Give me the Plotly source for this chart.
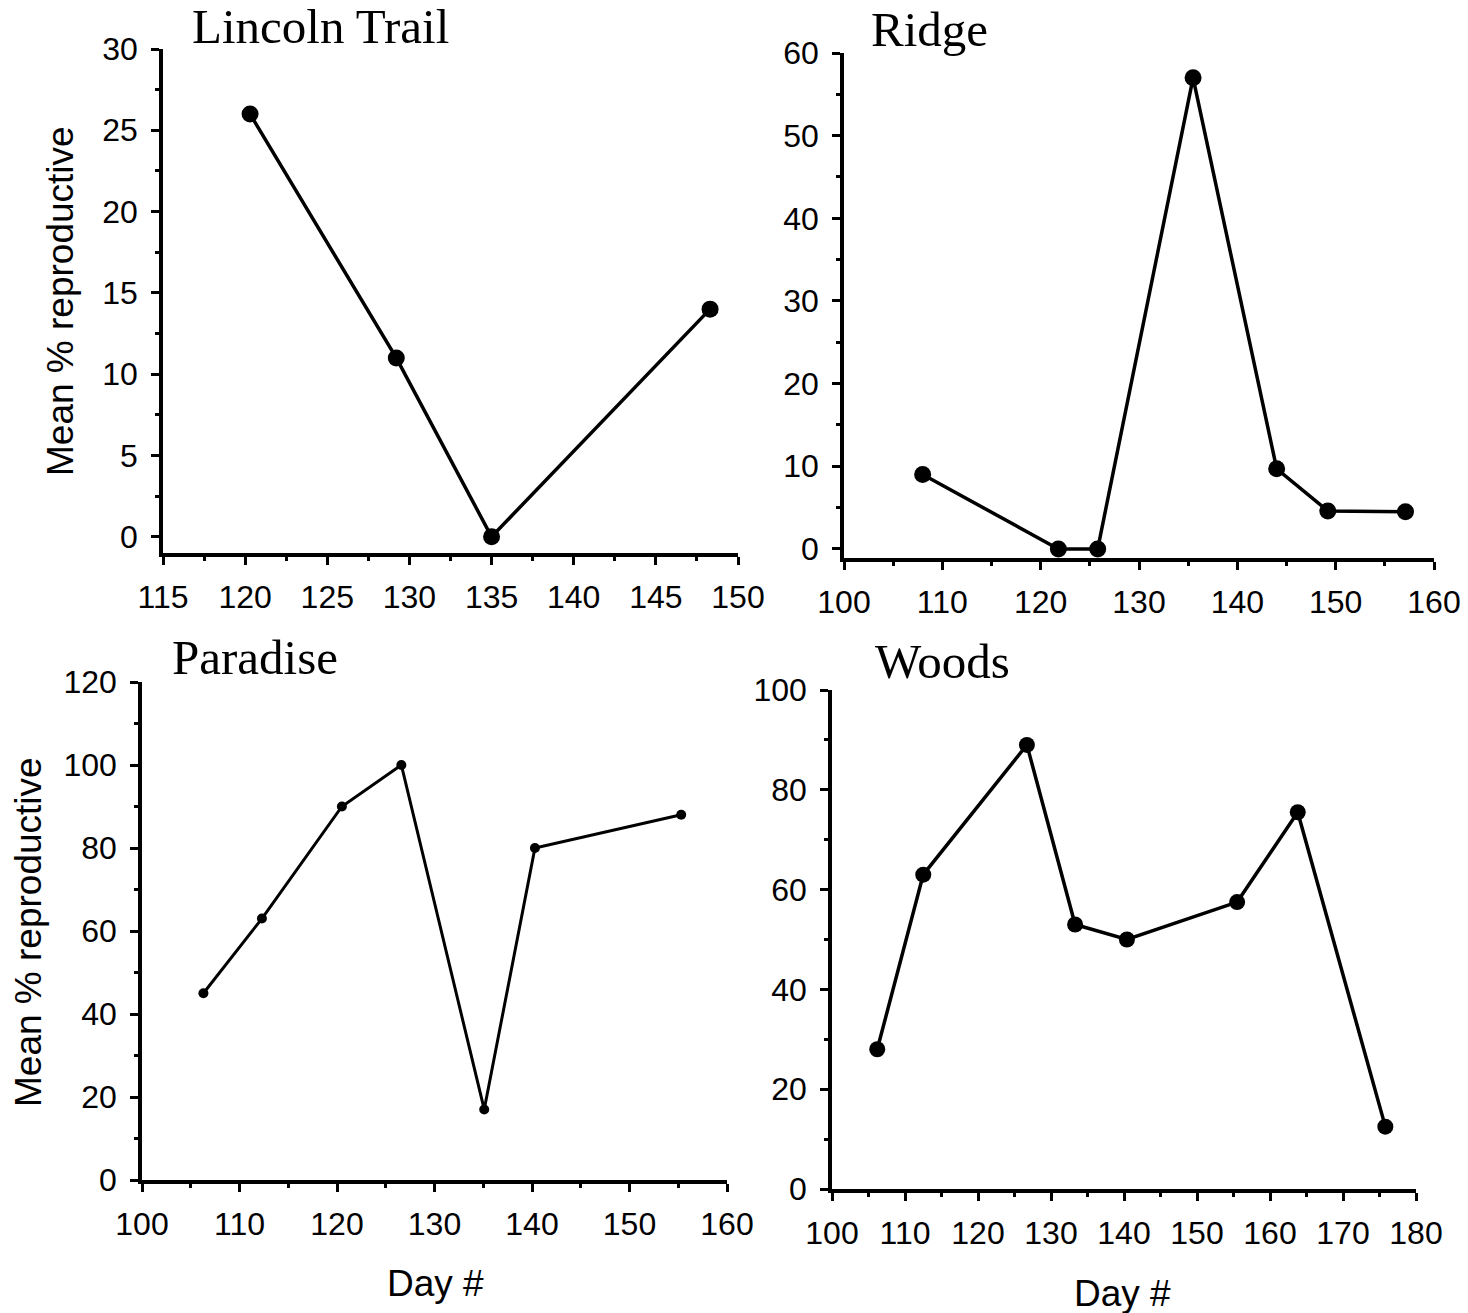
import plotly.graph_objects as go

# Sampling day and mean percent reproductive at each site
lincoln_day = [120.3, 129.2, 135.0, 148.3]
lincoln_pct = [26, 11, 0, 14]

ridge_day = [108.0, 121.8, 125.8, 135.5, 144.0, 149.2, 157.1]
ridge_pct = [9, 0, 0, 57, 9.7, 4.6, 4.5]

paradise_day = [106.3, 112.3, 120.5, 126.6, 135.1, 140.3, 155.3]
paradise_pct = [45, 63, 90, 100, 17, 80, 88]

woods_day = [106.2, 112.5, 126.7, 133.3, 140.4, 155.5, 163.8, 175.8]
woods_pct = [28, 63, 89, 53, 50, 57.5, 75.5, 12.5]

site_names = ["Lincoln Trail", "Ridge", "Paradise", "Woods"]
y_title = "Mean % reproductive"
x_title = "Day #"

W, H = 1468, 1313

# panel boxes in pixels: left, right, top, bottom
panels = [
    dict(box=(163, 738, 49, 553), xr=[115, 150], xd=5, yr=[-1, 30], yd=5,
         x=lincoln_day, y=lincoln_pct, ms=17, lw=3.5),
    dict(box=(844, 1434, 53, 558), xr=[100, 160], xd=10, yr=[-1.1, 60], yd=10,
         x=ridge_day, y=ridge_pct, ms=17, lw=3.5),
    dict(box=(142, 727, 682, 1180), xr=[100, 160], xd=10, yr=[0, 120], yd=20,
         x=paradise_day, y=paradise_pct, ms=10, lw=3),
    dict(box=(832, 1416, 690, 1189), xr=[100, 180], xd=10, yr=[0, 100], yd=20,
         x=woods_day, y=woods_pct, ms=16, lw=3.5),
]

tick_font = dict(family="Liberation Sans, Arial, sans-serif", size=32, color="black")

fig = go.Figure()
layout = dict(
    width=W, height=H,
    margin=dict(l=0, r=0, t=0, b=0),
    paper_bgcolor="white", plot_bgcolor="white",
    showlegend=False,
)

for i, p in enumerate(panels):
    n = "" if i == 0 else str(i + 1)
    l, r, t, b = p["box"]
    fig.add_trace(go.Scatter(
        x=p["x"], y=p["y"], mode="lines+markers",
        line=dict(color="black", width=p["lw"]),
        marker=dict(color="black", size=p["ms"]),
        xaxis="x" + n, yaxis="y" + n, cliponaxis=False,
    ))
    common = dict(
        showline=True, linecolor="black", linewidth=3.5,
        showgrid=False, zeroline=False, automargin=False,
        ticks="outside", ticklen=8, tickwidth=2.5, tickcolor="black",
        tickfont=tick_font, fixedrange=True,
    )
    layout["xaxis" + n] = dict(
        common, domain=[l / W, r / W], range=p["xr"], anchor="y" + n,
        tick0=0, dtick=p["xd"], ticklabelstandoff=5,
        minor=dict(dtick=p["xd"] / 2, ticks="outside", ticklen=4,
                   tickwidth=2.5, tickcolor="black", showgrid=False),
    )
    layout["yaxis" + n] = dict(
        common, domain=[1 - b / H, 1 - t / H], range=p["yr"], anchor="x" + n,
        tick0=0, dtick=p["yd"], ticklabelstandoff=7,
        minor=dict(dtick=p["yd"] / 2, ticks="outside", ticklen=4,
                   tickwidth=2.5, tickcolor="black", showgrid=False),
    )

fig.update_layout(**layout)

title_font = dict(family="Liberation Serif, Times New Roman, serif", size=49, color="black")
label_font = dict(family="Liberation Sans, Arial, sans-serif", size=37, color="black")

# site names (left x, vertical centre in pixels)
title_pos = [(190, 27), (869, 29), (170, 657), (873, 661)]
for name, (px, py) in zip(site_names, title_pos):
    fig.add_annotation(text=name, xref="paper", yref="paper",
                       x=px / W, y=1 - py / H, xanchor="left", yanchor="middle",
                       showarrow=False, font=title_font)

# axis titles
for px, py in [(60, 301), (28, 932)]:
    fig.add_annotation(text=y_title, xref="paper", yref="paper",
                       x=px / W, y=1 - py / H, xanchor="center", yanchor="middle",
                       textangle=-90, showarrow=False, font=label_font)
for px, py in [(435, 1283), (1122, 1293)]:
    fig.add_annotation(text=x_title, xref="paper", yref="paper",
                       x=px / W, y=1 - py / H, xanchor="center", yanchor="middle",
                       showarrow=False, font=label_font)

fig.write_html("out.html")
